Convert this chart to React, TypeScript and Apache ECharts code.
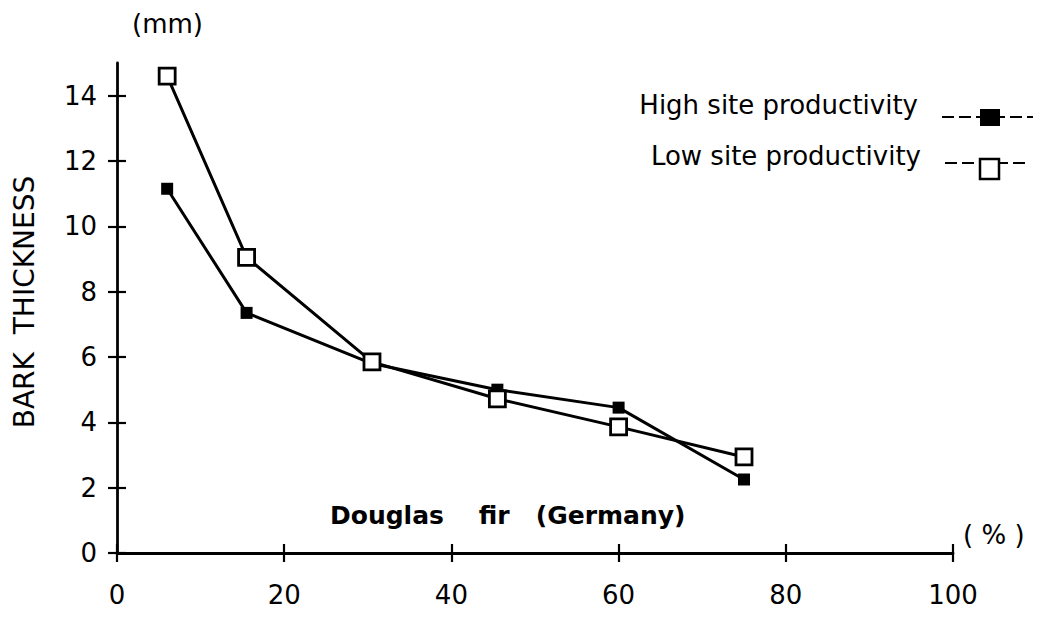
import React, { useEffect, useRef } from "react";
import * as echarts from "echarts";

// Relative height position (%) along the stem
const stemPosition = [6, 15.5, 30.5, 45.5, 60, 75];
// Bark thickness (mm)
const highSite = [11.15, 7.35, 5.8, 5.0, 4.45, 2.25];
const lowSite = [14.6, 9.05, 5.85, 4.72, 3.86, 2.94];

const xTicks = [0, 20, 40, 60, 80, 100];
const yTicks = [0, 2, 4, 6, 8, 10, 12, 14];

const FONT = "DejaVu Sans";
const INK = "#000";

export default function App() {
  const ref = useRef<HTMLDivElement>(null);

  useEffect(() => {
    if (!ref.current) return;
    const chart = echarts.init(ref.current, null, { renderer: "svg" });

    const pair = (ys: number[]) => stemPosition.map((x, i) => [x, ys[i]]);

    const baseX = {
      type: "value" as const,
      min: 0,
      max: 100,
      interval: 20,
      position: "bottom" as const,
      splitLine: { show: false },
    };
    const baseY = {
      type: "value" as const,
      min: 0,
      max: 15,
      interval: 2,
      position: "left" as const,
      splitLine: { show: false },
    };

    chart.setOption({
      animation: false,
      backgroundColor: "#fff",
      grid: { left: 117, right: 91, top: 63, bottom: 66 },
      xAxis: [
        {
          ...baseX,
          axisLine: { show: true, lineStyle: { color: INK, width: 2.8 } },
          axisTick: { show: true, length: 9, customValues: xTicks, lineStyle: { color: INK, width: 2.2 } },
          axisLabel: { customValues: xTicks, color: INK, fontSize: 26, fontFamily: FONT, margin: 29 },
        },
        {
          ...baseX,
          axisLine: { show: false },
          axisTick: { show: true, inside: true, length: 9, customValues: xTicks, lineStyle: { color: INK, width: 2.2 } },
          axisLabel: { show: false },
        },
      ],
      yAxis: [
        {
          ...baseY,
          axisLine: { show: true, lineStyle: { color: INK, width: 2.8 } },
          axisTick: { show: true, length: 9, customValues: yTicks, lineStyle: { color: INK, width: 2.2 } },
          axisLabel: { customValues: yTicks, color: INK, fontSize: 26, fontFamily: FONT, margin: 20 },
        },
        {
          ...baseY,
          axisLine: { show: false },
          axisTick: { show: true, inside: true, length: 9, customValues: yTicks, lineStyle: { color: INK, width: 2.2 } },
          axisLabel: { show: false },
        },
      ],
      series: [
        {
          name: "High site productivity",
          type: "line",
          data: pair(highSite),
          symbol: "rect",
          symbolSize: 12,
          lineStyle: { color: INK, width: 3 },
          itemStyle: { color: INK, borderWidth: 0 },
          z: 2,
        },
        {
          name: "Low site productivity",
          type: "line",
          data: pair(lowSite),
          symbol: "rect",
          symbolSize: 16,
          lineStyle: { color: INK, width: 3 },
          itemStyle: { color: "#fff", borderColor: INK, borderWidth: 2.8 },
          z: 3,
        },
      ],
      graphic: [
        {
          type: "text",
          left: 132,
          top: 11,
          style: { text: "(mm)", fontSize: 26, fontFamily: FONT, fill: INK },
        },
        {
          type: "text",
          left: 963,
          top: 522,
          style: { text: "( % )", fontSize: 26, fontFamily: FONT, fill: INK },
        },
        {
          type: "text",
          x: 24,
          y: 302,
          rotation: Math.PI / 2,
          style: {
            text: "BARK  THICKNESS",
            fontSize: 28,
            fontFamily: FONT,
            fill: INK,
            align: "center",
            verticalAlign: "middle",
          },
        },
        {
          type: "text",
          left: 330,
          top: 503,
          style: {
            text: "Douglas    fir   (Germany)",
            fontSize: 25,
            fontWeight: "bold",
            fontFamily: FONT,
            fill: INK,
          },
        },
        // Legend: label on the left, dashed line with marker on the right
        {
          type: "text",
          x: 918,
          y: 105,
          style: {
            text: "High site productivity",
            fontSize: 26,
            fontFamily: FONT,
            fill: INK,
            align: "right",
            verticalAlign: "middle",
          },
        },
        {
          type: "line",
          shape: { x1: 942, y1: 117, x2: 1033, y2: 117 },
          style: { stroke: INK, lineWidth: 2, lineDash: [12, 5] },
        },
        {
          type: "rect",
          shape: { x: 980, y: 109, width: 20, height: 17 },
          style: { fill: INK },
        },
        {
          type: "text",
          x: 921,
          y: 156,
          style: {
            text: "Low site productivity",
            fontSize: 26,
            fontFamily: FONT,
            fill: INK,
            align: "right",
            verticalAlign: "middle",
          },
        },
        {
          type: "line",
          shape: { x1: 945, y1: 163, x2: 1030, y2: 163 },
          style: { stroke: INK, lineWidth: 2, lineDash: [12, 5] },
        },
        {
          type: "rect",
          shape: { x: 980, y: 159, width: 19, height: 20 },
          style: { fill: "#fff", stroke: INK, lineWidth: 2.5 },
        },
      ],
    });

    return () => chart.dispose();
  }, []);

  return (
    <div
      ref={ref}
      style={{ position: "fixed", left: 0, top: 0, width: 1044, height: 619, background: "#fff" }}
    />
  );
}
